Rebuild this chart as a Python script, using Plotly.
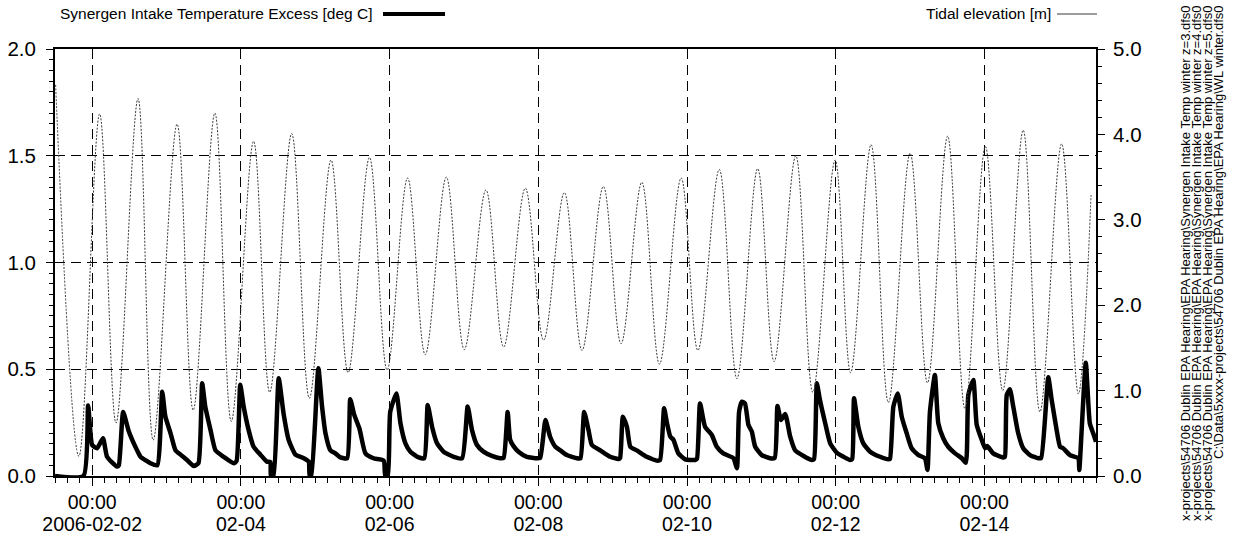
import pandas as pd
import plotly.graph_objects as go

BASE = pd.Timestamp("2006-02-01 00:00")

# Synergen intake temperature excess [deg C] (hours after 2006-02-01 00:00)
temp_hours = [
    12.0, 21.2, 22.7, 24.0, 25.6, 27.5, 28.8, 32.0,
    32.6, 34.0, 35.8, 38.5, 39.6, 42.8, 45.0,
    46.6, 47.6, 49.3, 50.9, 52.5, 54.6, 56.8,
    58.3, 59.5, 60.5, 62.2, 63.8, 66.4, 69.7,
    70.6, 71.8, 72.9, 74.5, 76.1, 78.3, 80.4, 81.5, 81.7, 82.5,
    84.2, 85.8, 87.4, 89.6, 92.3, 93.9, 94.2, 94.7,
    97.0, 98.2, 99.3, 100.9, 102.5, 104.1, 106.3,
    107.3, 108.6, 110.3, 112.2, 114.8, 118.1, 118.6, 119.4,
    120.2, 122.2, 123.5, 125.1, 126.7, 129.4, 131.2,
    132.3, 133.7, 135.3, 137.4, 140.7, 143.4,
    145.2, 146.6, 148.2, 150.3, 153.0, 155.7, 156.8,
    158.1, 158.9, 160.0, 161.6, 164.3, 167.6, 168.6,
    170.3, 171.8, 173.5, 175.1, 177.2, 180.5, 181.6,
    182.8, 184.2, 185.3, 188.0, 191.2, 193.9, 194.4,
    195.3, 196.6, 197.7, 199.8, 203.0, 206.3, 207.3,
    208.6, 209.5, 210.6, 211.6, 213.2, 215.4, 218.6, 219.2,
    220.2, 221.8, 224.0, 225.6, 227.7, 231.0, 232.1,
    232.8, 233.7, 234.7, 235.8, 236.9, 238.0, 240.1, 242.8, 244.3,
    245.2, 246.3, 247.7, 249.3, 250.9, 253.6, 256.3, 257.0,
    257.9, 258.9, 260.6, 262.2, 264.3, 266.5, 268.6, 269.3,
    269.9, 271.3, 272.9, 275.1, 278.3, 281.0, 281.5,
    282.6, 284.0, 285.3, 286.9, 288.5, 290.7, 292.8, 293.6,
    294.4, 296.0, 297.1, 298.7, 300.3, 302.5, 304.7, 306.0,
    306.8, 308.4, 309.5, 311.1, 312.2, 312.9, 314.8, 318.1, 318.6,
    319.2, 320.2, 321.3, 322.9, 324.5, 326.7, 329.4, 330.3,
    332.6, 333.7, 335.3, 336.4, 337.4, 339.6, 342.3, 342.6,
    344.7, 346.0, 347.1, 348.0,
]
temp_values = [
    0.0, 0.0, 0.33, 0.145, 0.13, 0.177, 0.09, 0.044,
    0.05, 0.30, 0.21, 0.12, 0.09, 0.06, 0.05,
    0.395, 0.28, 0.20, 0.12, 0.10, 0.075, 0.047,
    0.06, 0.435, 0.325, 0.215, 0.12, 0.09, 0.06,
    0.07, 0.427, 0.325, 0.215, 0.137, 0.10, 0.067, 0.065, 0.0, 0.0,
    0.458, 0.29, 0.17, 0.10, 0.083, 0.067, 0.0, 0.0,
    0.505, 0.325, 0.20, 0.12, 0.106, 0.087, 0.083,
    0.36, 0.286, 0.22, 0.106, 0.083, 0.072, 0.0, 0.0,
    0.30, 0.387, 0.247, 0.153, 0.114, 0.087, 0.083,
    0.333, 0.231, 0.153, 0.114, 0.09, 0.083,
    0.325, 0.215, 0.145, 0.114, 0.094, 0.083, 0.085,
    0.30, 0.17, 0.14, 0.114, 0.09, 0.083, 0.085,
    0.262, 0.184, 0.137, 0.12, 0.098, 0.083, 0.083,
    0.30, 0.215, 0.145, 0.12, 0.09, 0.08, 0.085,
    0.278, 0.23, 0.137, 0.12, 0.09, 0.072, 0.075,
    0.317, 0.25, 0.184, 0.17, 0.106, 0.078, 0.075, 0.08,
    0.34, 0.231, 0.192, 0.137, 0.106, 0.083, 0.036,
    0.30, 0.348, 0.34, 0.24, 0.208, 0.137, 0.098, 0.083, 0.085,
    0.328, 0.262, 0.29, 0.184, 0.12, 0.094, 0.075, 0.08,
    0.434, 0.356, 0.247, 0.153, 0.11, 0.09, 0.075, 0.08,
    0.364, 0.23, 0.153, 0.114, 0.09, 0.078, 0.08,
    0.325, 0.387, 0.278, 0.20, 0.13, 0.098, 0.083, 0.028,
    0.30, 0.473, 0.247, 0.177, 0.137, 0.106, 0.083, 0.062,
    0.38, 0.45, 0.24, 0.17, 0.13, 0.14, 0.106, 0.087, 0.09,
    0.38, 0.406, 0.325, 0.20, 0.13, 0.098, 0.083, 0.085,
    0.462, 0.356, 0.215, 0.137, 0.13, 0.098, 0.083, 0.028,
    0.53, 0.247, 0.20, 0.16,
]

# Tidal elevation [m] - high / low waters (hours after 2006-02-01 00:00)
tide_hours = [
    12.2, 19.7, 26.4, 31.7, 38.8, 43.7, 51.4, 56.6, 63.6, 68.9,
    76.1, 81.3, 88.4, 94.1, 101.1, 106.6, 113.5, 119.2, 125.8, 131.5,
    138.3, 144.1, 151.1, 156.8, 163.8, 169.7, 176.4, 182.1, 189.0, 194.7,
    201.4, 207.1, 214.1, 219.5, 226.4, 232.1, 238.8, 244.1, 251.1, 256.6,
    263.8, 268.8, 275.4, 281.0, 288.0, 293.6, 300.1, 305.7, 312.3, 317.9,
    324.5, 329.9, 336.9, 342.3, 346.4,
]
tide_values = [
    4.58, 0.23, 4.24, 0.62, 4.42, 0.42, 4.12, 0.77, 4.25, 0.64,
    3.92, 0.98, 4.01, 0.91, 3.70, 1.21, 3.73, 1.24, 3.49, 1.42,
    3.50, 1.48, 3.35, 1.51, 3.37, 1.59, 3.32, 1.47, 3.39, 1.55,
    3.44, 1.31, 3.49, 1.47, 3.59, 1.14, 3.60, 1.34, 3.75, 0.98,
    3.70, 1.21, 3.88, 0.86, 3.78, 1.09, 3.98, 0.79, 3.86, 1.00,
    4.05, 0.75, 3.89, 0.96, 3.29,
]

tick_hours = [24, 72, 120, 168, 216, 264, 312]
tick_dates = ["2006-02-02", "02-04", "02-06", "02-08", "02-10", "02-12", "02-14"]
x_range_hours = [12, 348]

legend_temp = "Synergen Intake Temperature Excess [deg C]"
legend_tide = "Tidal elevation [m]"
# visible part of the file-path captions (cut at the page edge in the original)
file_lines = [
    "x-projects\\54706 Dublin EPA Hearing\\EPA Hearing\\Synergen Intake Temp winter z=3.dfs0",
    "x-projects\\54706 Dublin EPA Hearing\\EPA Hearing\\Synergen Intake Temp winter z=4.dfs0",
    "x-projects\\54706 Dublin EPA Hearing\\EPA Hearing\\Synergen Intake Temp winter z=5.dfs0",
    "C:\\Data\\5xxxx-projects\\54706 Dublin EPA Hearing\\EPA Hearing\\WL winter.dfs0",
]


def to_time(hours):
    return [BASE + pd.Timedelta(hours=h) for h in hours]


W, H = 1239, 540
ML, MR, MT, MB = 55, 143, 49, 64
PW, PH = W - ML - MR, H - MT - MB


def px(x):
    return (x - ML) / PW


def py(y):
    return 1 - (y - MT) / PH


FONT = "Liberation Sans, Arial, sans-serif"
TICKFONT = dict(size=20.5, family=FONT, color="black")
XTICKFONT = dict(size=19.5, family=FONT, color="black")

fig = go.Figure()
fig.add_trace(go.Scatter(
    x=to_time(tide_hours), y=tide_values, yaxis="y2", mode="lines",
    line=dict(color="#3a3a3a", width=1, shape="spline", smoothing=1.0, dash="2px,1.5px"),
    name=legend_tide, showlegend=False,
))
fig.add_trace(go.Scatter(
    x=to_time(temp_hours), y=temp_values, mode="lines",
    line=dict(color="black", width=4.5, shape="spline", smoothing=0.5),
    name=legend_temp, showlegend=False,
))
# empty carrier trace so that the second (date) x axis is drawn
fig.add_trace(go.Scatter(
    x=to_time(x_range_hours), y=[None, None], xaxis="x2", mode="lines",
    showlegend=False, hoverinfo="skip",
))

grid = dict(showgrid=True, gridcolor="black", gridwidth=1, griddash="10px,6px")
two_days_ms = 2 * 24 * 3600 * 1000

fig.update_layout(
    width=W, height=H,
    margin=dict(l=ML, r=MR, t=MT, b=MB, autoexpand=False),
    paper_bgcolor="white", plot_bgcolor="white",
    font=dict(family=FONT, color="black"),
    xaxis=dict(
        type="date", range=to_time(x_range_hours), automargin=False,
        tickmode="linear", tick0=to_time([tick_hours[0]])[0], dtick=two_days_ms,
        tickformat="%H:%M",
        ticks="outside", ticklen=8, tickwidth=1, tickcolor="black",
        tickfont=XTICKFONT, ticklabelstandoff=0,
        showline=True, linecolor="black", linewidth=2, mirror=True,
        minor=dict(ticks="outside", ticklen=5, tickcolor="black", tickwidth=1,
                   tick0=BASE, dtick=4 * 3600 * 1000, showgrid=False),
        zeroline=False,
        **grid,
    ),
    xaxis2=dict(
        type="date", overlaying="x", matches="x", anchor="y", side="bottom",
        automargin=False,
        tickmode="array", tickvals=to_time(tick_hours), ticktext=tick_dates,
        ticks="", tickfont=XTICKFONT, ticklabelstandoff=34,
        showline=False, showgrid=False, zeroline=False,
    ),
    yaxis=dict(
        range=[0, 2], tickmode="linear", tick0=0, dtick=0.5, tickformat=".1f",
        automargin=False,
        ticks="outside", ticklen=7, tickwidth=1, tickcolor="black",
        tickfont=TICKFONT, ticklabelstandoff=6,
        showline=True, linecolor="black", linewidth=2, mirror=True,
        minor=dict(ticks="outside", ticklen=4, tickcolor="black", tickwidth=1,
                   dtick=0.05, showgrid=False),
        zeroline=False,
        **grid,
    ),
    yaxis2=dict(
        range=[0, 5], overlaying="y", side="right", automargin=False,
        tickmode="linear", tick0=0, dtick=1, tickformat=".1f",
        ticks="outside", ticklen=7, tickwidth=1, tickcolor="black",
        tickfont=TICKFONT, ticklabelstandoff=4,
        showline=True, linecolor="black", linewidth=2,
        minor=dict(ticks="outside", ticklen=4, tickcolor="black", tickwidth=1,
                   dtick=0.2, showgrid=False),
        showgrid=False, zeroline=False,
    ),
)

# legend-like header
fig.add_annotation(xref="paper", yref="paper", x=px(58), y=py(14), text=legend_temp,
                   showarrow=False, xanchor="left", yanchor="middle",
                   font=dict(size=15.5, family=FONT))
fig.add_shape(type="line", xref="paper", yref="paper", x0=px(383), x1=px(445),
              y0=py(14), y1=py(14), line=dict(color="black", width=4))
fig.add_annotation(xref="paper", yref="paper", x=px(924), y=py(14), text=legend_tide,
                   showarrow=False, xanchor="left", yanchor="middle",
                   font=dict(size=15.5, family=FONT))
fig.add_shape(type="line", xref="paper", yref="paper", x0=px(1057), x1=px(1097),
              y0=py(14), y1=py(14), line=dict(color="#3a3a3a", width=1))

# rotated file paths on the right
for i, line in enumerate(file_lines):
    fig.add_annotation(xref="paper", yref="paper", x=px(1185 + 11 * i), y=py(3),
                       text=line, textangle=-90, showarrow=False,
                       xanchor="center", yanchor="top",
                       font=dict(size=13.0, family=FONT))

fig.write_html("out.html", config={"displayModeBar": False},
               post_script="document.body.style.margin='0px';")
